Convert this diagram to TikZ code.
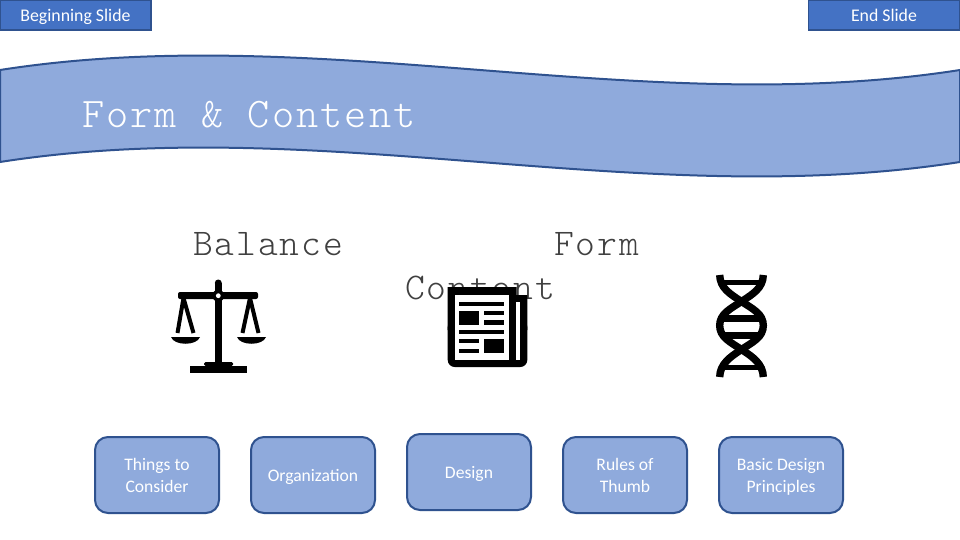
\documentclass[tikz,border=0pt]{standalone}
\usepackage{fontspec}
\setmainfont{Carlito}
\newfontfamily\courfont[LetterSpace=5]{Latin Modern Mono Light}
\newcommand{\navstrut}{\rule[-3.5pt]{0pt}{20pt}}
\newcommand{\boxstrut}{\rule[-4.6pt]{0pt}{22pt}}
\definecolor{navfill}{HTML}{4472C4}
\definecolor{edgeblue}{HTML}{2F528F}
\definecolor{softblue}{HTML}{8FAADC}
\definecolor{headgrey}{HTML}{404040}
\tikzset{
  navbtn/.style={draw=edgeblue,line width=1.8pt,fill=navfill,text=white,minimum width=151pt,minimum height=30pt,inner sep=0pt,font=\fontsize{17.8}{20}\selectfont},
  topic/.style={draw=edgeblue,line width=2pt,fill=softblue,rounded corners=13pt,text=white,minimum width=124pt,minimum height=76pt,inner sep=0pt,align=center,font=\fontsize{17.6}{22}\selectfont},
  headtext/.style={anchor=base west,inner sep=0pt,text=headgrey,font=\courfont\fontsize{37.7}{38}\selectfont},
  ink/.style={fill=black,draw=none},
}
\begin{document}
\begin{tikzpicture}[x=1pt,y=-1pt]
\useasboundingbox (0,0) rectangle (960,540);
\fill[white] (0,0) rectangle (960,540);
% buttons
\node[navbtn] (begin) at (75.5,15) {\navstrut Beginning Slide};
\node[navbtn] (end) at (884,15) {\navstrut End Slide};
% banner
\draw[fill=softblue,draw=edgeblue,line width=2pt]
  (0,70) .. controls (320,20) and (640,120) .. (960,70)
  -- (960,162) .. controls (640,212) and (320,112) .. (0,162) -- cycle;
\node[anchor=base west,inner sep=0pt,text=white,font=\courfont\fontsize{42.2}{42}\selectfont] (title) at (82,128) {Form \& Content};
% headings
\node[headtext] (balance) at (193,255) {Balance};
\node[headtext] (form) at (554,255) {Form};
\node[headtext] (content) at (405,299) {Content};
% scales
\begin{scope}
\fill[ink] (214.8,366) rectangle (221.8,283);
\fill[ink] (218.3,283) circle (3.5);
\fill[ink,rounded corners=2pt] (178,292) rectangle (258,299);
\fill[ink] (218.3,295.7) circle (6);
\fill[white] (218.3,295.7) circle (2.4);
\fill[ink,rounded corners=1.5pt] (204,366) -- (204,362) -- (233,362) -- (233,366) -- cycle;
\fill[ink] (190,366) rectangle (247,373);
\draw[line width=4pt,line join=round] (177.5,333) -- (183.5,298) -- (193.5,333);
\draw[line width=4pt,line join=round] (242.5,333) -- (250,298) -- (258.5,333);
\fill[ink] (171,337) -- (200,337) .. controls (197,346) and (174,346) .. (171,337) -- cycle;
\fill[ink] (237,337) -- (266,337) .. controls (263,346) and (240,346) .. (237,337) -- cycle;
\end{scope}
% newspaper
\begin{scope}
\fill[ink,rounded corners=7pt] (447.7,320) -- (447.7,367) -- (527.3,367) -- (527.3,320) -- cycle;
\fill[ink] (447.7,287) -- (516.5,287) -- (516.5,295) -- (527.3,295) -- (527.3,330) -- (447.7,330) -- cycle;
\fill[white] (455,295) rectangle (509,359.5);
\fill[white] (516,301.7) rectangle (520,359.5);
\fill[ink] (459.3,302.3) rectangle (504,306);
\fill[ink] (459.3,311) rectangle (479,325);
\fill[ink] (484,311) rectangle (504,315);
\fill[ink] (484,320) rectangle (504,325);
\fill[ink] (459.3,330) rectangle (504,334);
\fill[ink] (459.3,339) rectangle (479,343.3);
\fill[ink] (459.3,349) rectangle (479,353.3);
\fill[ink] (484,339) rectangle (504,353.3);
\end{scope}
% dna
\begin{scope}[line width=7.4pt]
\draw (719.7,275) .. controls (720,288) and (730,294) .. (741.5,301.5)
  .. controls (753,309) and (763.3,314) .. (763.3,325.5)
  .. controls (763.3,337) and (753,342) .. (741.5,349.5)
  .. controls (730,357) and (720,364) .. (719.7,377);
\draw (763.3,275) .. controls (763,288) and (753,294) .. (741.5,301.5)
  .. controls (730,309) and (719.7,314) .. (719.7,325.5)
  .. controls (719.7,337) and (730,342) .. (741.5,349.5)
  .. controls (753,357) and (763,364) .. (763.3,377);
\fill[ink] (722,280) rectangle (761,285);
\fill[ink] (722,315) rectangle (761,321.5);
\fill[ink] (722,332) rectangle (761,338.5);
\fill[ink] (722,365) rectangle (761,370);
\end{scope}
% topic boxes
\node[topic] (t1) at (157,475) {\boxstrut Things to\\\boxstrut Consider};
\node[topic] (t2) at (313,475) {\boxstrut Organization};
\node[topic] (t3) at (469,472) {\boxstrut Design};
\node[topic] (t4) at (625,475) {\boxstrut Rules of\\\boxstrut Thumb};
\node[topic] (t5) at (781,475) {\boxstrut Basic Design\\\boxstrut Principles};
\end{tikzpicture}
\end{document}
